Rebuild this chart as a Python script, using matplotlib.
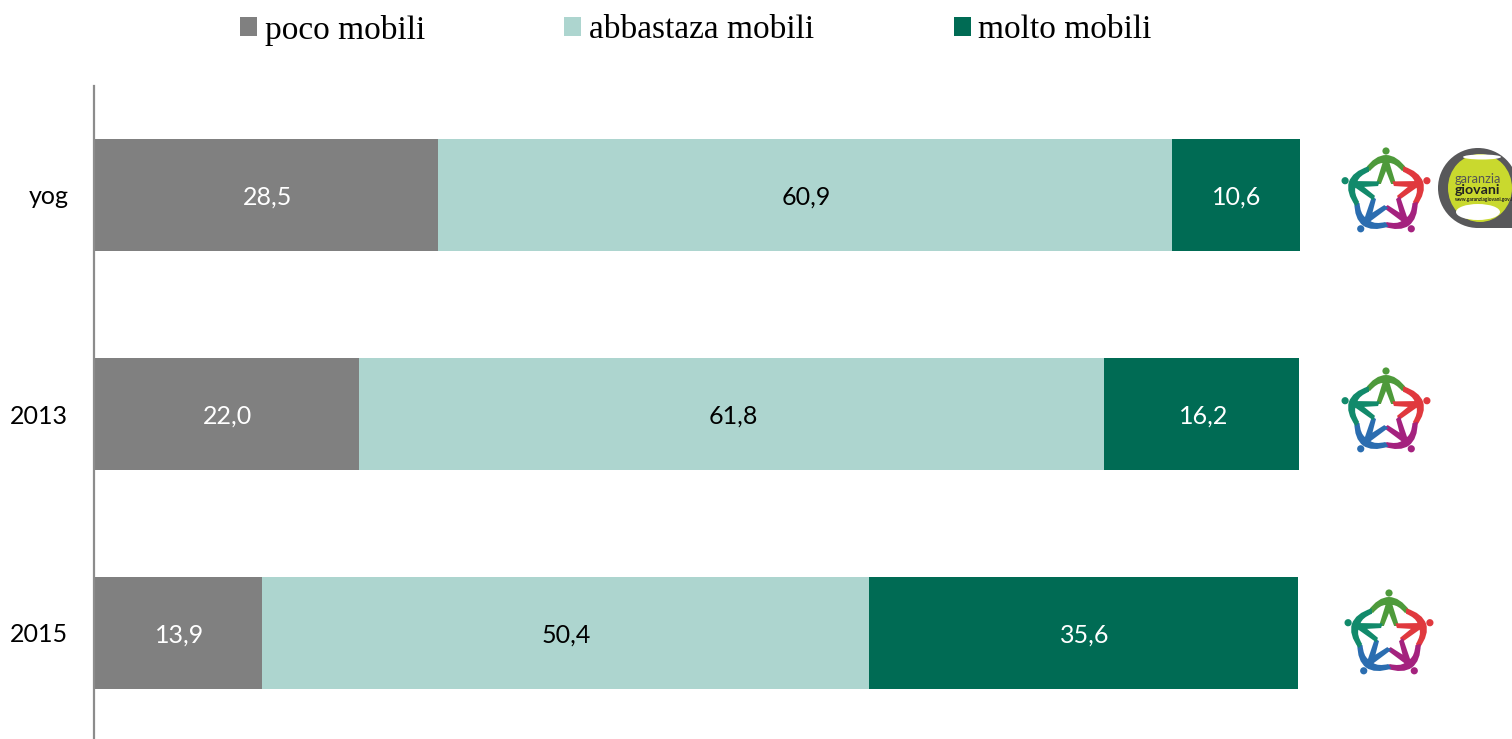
import numpy as np
import matplotlib
matplotlib.use("Agg")
import matplotlib.pyplot as plt
from matplotlib.patches import PathPatch, Circle, Polygon, Ellipse, Rectangle
from matplotlib.path import Path
from matplotlib.transforms import Affine2D

categories = ["yog", "2013", "2015"]
poco = [28.5, 22.0, 13.9]
abbastanza = [60.9, 61.8, 50.4]
molto = [10.6, 16.2, 35.6]
series_names = ["poco mobili", "abbastaza mobili", "molto mobili"]
colors = ["#808080", "#ADD5CF", "#006B54"]
label_colors = ["white", "black", "white"]

W, H = 1512, 739
fig = plt.figure(figsize=(W / 100, H / 100), dpi=100, facecolor="white")
ax = fig.add_axes([94 / W, 0, (1299.5 - 94) / W, (H - 86) / H])

y = np.arange(len(categories))
left = np.zeros(len(categories))
for vals, col, lc, name in zip([poco, abbastanza, molto], colors, label_colors, series_names):
    bars = ax.barh(y, vals, left=left, height=112 / 219, color=col, label=name, linewidth=0)
    for b, v in zip(bars, vals):
        ax.annotate(f"{v:.1f}".replace(".", ","),
                    (b.get_x() + b.get_width() / 2, b.get_y() + b.get_height() / 2),
                    xytext=(1, -1.8), textcoords="offset points", ha="center", va="center",
                    color=lc, fontsize=18, family="Lato")
    left += np.array(vals)

ax.set_xlim(0, 100)
ax.set_ylim((H - 195) / 219, (86 - 195) / 219)
ax.set_yticks(y, categories)
ax.tick_params(axis="y", length=0, pad=18.5, labelsize=18)
for t in ax.get_yticklabels():
    t.set_family("Lato")
    t.set_y(t.get_position()[1])
ax.xaxis.set_visible(False)
for s in ["top", "right", "bottom"]:
    ax.spines[s].set_visible(False)
ax.spines["left"].set_color("#8C8C8C")
ax.spines["left"].set_linewidth(1.6)

fs = 24
px = fs * 100 / 72
leg = fig.legend(*ax.get_legend_handles_labels(), ncol=3, loc="center",
                 bbox_to_anchor=(696 / W, 1 - 30 / H), frameon=False,
                 prop={"family": "Liberation Serif", "size": fs},
                 handlelength=17 / px, handleheight=17 / px, handletextpad=8 / px,
                 columnspacing=139 / px, borderpad=0, borderaxespad=0)

# Decorative logos, drawn in figure pixels (y downwards)
to_px = Affine2D().scale(1, -1).translate(0, H)

def star_logo(cx, cy):
    logo_cols = ["#4E9A3B", "#E0393E", "#A4227E", "#2B6DB0", "#128A6B"]
    L, C, Z = Path.LINETO, Path.CURVE3, Path.CLOSEPOLY
    pts = [((-21, 25), Path.MOVETO), ((-11, 39), C), ((0, 39), C), ((11, 39), C), ((21, 25), C),
           ((16, 23), L), ((9, 31), C), ((3.5, 31), C), ((10, 10), L), ((-10, 10), L),
           ((-3.5, 31), L), ((-9, 31), C), ((-16, 23), C), ((-21, 25), L), ((-21, 25), Z)]
    path = Path([p[0] for p in pts], [p[1] for p in pts])
    for i, c in enumerate(logo_cols):
        rot = Affine2D().rotate_deg(-72 * i).scale(1, -1).translate(cx, cy) + to_px
        fig.add_artist(PathPatch(path, facecolor=c, edgecolor="none", transform=rot))
        fig.add_artist(Circle((0, 43), 3.6, facecolor=c, edgecolor="none", transform=rot))
    ang = np.pi / 2 - np.arange(10) * np.pi / 5
    rad = np.where(np.arange(10) % 2 == 0, 23, 10)
    star = np.column_stack([cx + rad * np.cos(ang), cy - rad * np.sin(ang)])
    fig.add_artist(Polygon(star, closed=True, facecolor="white", edgecolor="none", transform=to_px))

star_logo(1386, 194)
star_logo(1386, 414)
star_logo(1389, 636)

# garanzia giovani badge
fig.add_artist(Circle((1478, 188), 40, facecolor="#58585A", edgecolor="none", transform=to_px))
fig.add_artist(Rectangle((1478, 188), 34, 40, facecolor="#58585A", edgecolor="none", transform=to_px))
fig.add_artist(Ellipse((1480, 188), 64, 68, facecolor="#C9D92E", edgecolor="none", transform=to_px))
fig.add_artist(Ellipse((1482, 157), 38, 5, facecolor="white", edgecolor="none", transform=to_px))
fig.add_artist(Ellipse((1478, 212), 44, 16, facecolor="white", edgecolor="none", transform=to_px))
fig.text(1455 / W, 1 - 183 / H, "garanzia", fontsize=9.2, color="#555555", family="Lato", va="baseline")
fig.text(1455 / W, 1 - 194 / H, "giovani", fontsize=10.2, color="#222222", family="Lato", weight="bold", va="baseline")
fig.text(1455 / W, 1 - 200.5 / H, "www.garanziagiovani.gov.it", fontsize=3.5, color="#222222", family="Lato", weight="bold", va="baseline")

fig.savefig("out.png", dpi=100)
